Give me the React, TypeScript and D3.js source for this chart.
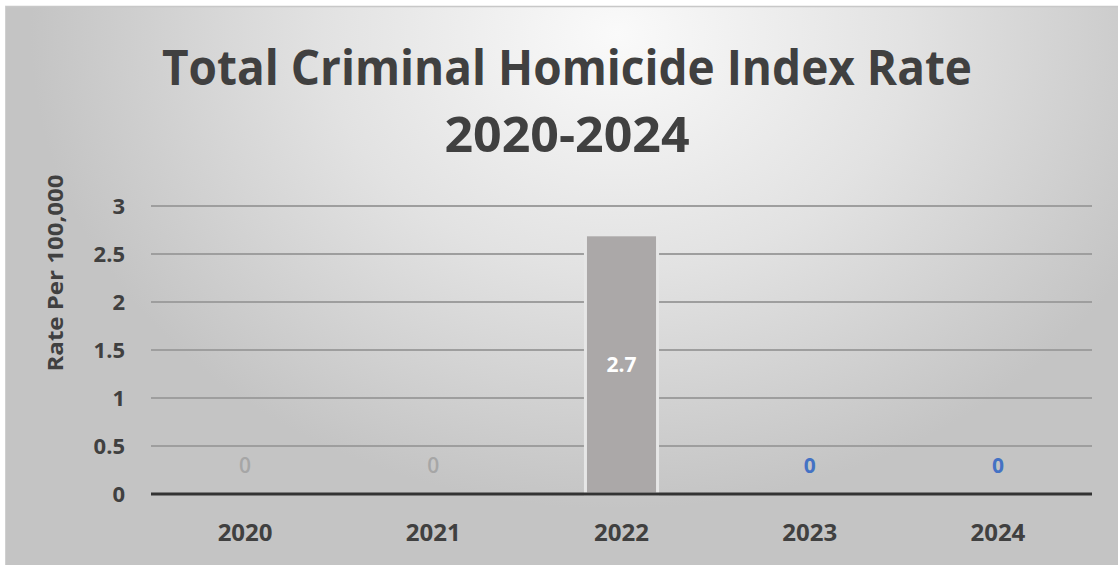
import React from "react";
import * as d3 from "d3";

const years = ["2020", "2021", "2022", "2023", "2024"];
const rates = [0, 0, 2.7, 0, 0];
const labelColors = ["#a6a6a6", "#a6a6a6", "#ffffff", "#4472c4", "#4472c4"];
const yTicks = [0, 0.5, 1, 1.5, 2, 2.5, 3];
const titleLine1 = "Total Criminal Homicide Index Rate";
const titleLine2 = "2020-2024";
const yAxisTitle = "Rate Per 100,000";

const W = 1118;
const H = 565;
const plotLeft = 151;
const plotRight = 1092;
const plotTop = 206;
const plotBottom = 494;

export default function App() {
  const x = d3.scaleBand<string>().domain(years).range([plotLeft, plotRight]).paddingInner(0.617).paddingOuter(0.3085);
  const y = d3.scaleLinear().domain([0, 3]).range([plotBottom, plotTop]);
  const font = "'Open Sans', 'DejaVu Sans', sans-serif";
  return (
    <svg width={W} height={H} style={{ position: "absolute", left: 0, top: 0 }}>
      <defs>
        <radialGradient id="bg" cx="0.55" cy="0.05" r="0.85" gradientUnits="objectBoundingBox" gradientTransform="translate(0.55,0.05) scale(0.62,1) translate(-0.55,-0.05)">
          <stop offset="0" stopColor="#fafafa" />
          <stop offset="0.5" stopColor="#e2e2e2" />
          <stop offset="1" stopColor="#c4c4c4" />
        </radialGradient>
      </defs>
      <rect x={0} y={0} width={W} height={H} fill="#ffffff" />
      <rect x={5} y={6} width={W - 5} height={H - 6} fill="url(#bg)" />
      <line x1={5} x2={W} y1={6.5} y2={6.5} stroke="#c8c8c8" strokeWidth={1.5} />
      <line x1={5.5} x2={5.5} y1={6} y2={H} stroke="#d0d0d0" strokeWidth={1} />
      {/* title */}
      <text x={567} y={85} textAnchor="middle" fontFamily={font} fontWeight={700} fontSize={48} fill="#404040" textLength={810} lengthAdjust="spacingAndGlyphs">{titleLine1}</text>
      <text x={567} y={152} textAnchor="middle" fontFamily={font} fontWeight={700} fontSize={48} fill="#404040" textLength={245} lengthAdjust="spacingAndGlyphs">{titleLine2}</text>
      {/* gridlines */}
      {yTicks.filter((t) => t > 0).map((t) => (
        <line key={t} x1={plotLeft} x2={plotRight} y1={y(t)} y2={y(t)} stroke="#9e9e9e" strokeWidth={2} />
      ))}
      {/* y tick labels */}
      {yTicks.map((t) => (
        <text key={t} x={125} y={y(t)} dy="0.36em" textAnchor="end" fontFamily={font} fontWeight={700} fontSize={22} fill="#404040">{String(t)}</text>
      ))}
      {/* y axis title */}
      <text transform={`translate(63,${273}) rotate(-90)`} textAnchor="middle" fontFamily={font} fontWeight={700} fontSize={21} fill="#404040" textLength={197} lengthAdjust="spacingAndGlyphs">{yAxisTitle}</text>
      {/* bars */}
      {years.map((yr, i) => rates[i] > 0 ? (
        <rect key={yr} x={x(yr)!} y={y(rates[i])} width={x.bandwidth()} height={plotBottom - y(rates[i])} fill="#aba8a8" stroke="#e6e6e6" strokeWidth={3} />
      ) : null)}
      {/* zero axis */}
      <line x1={plotLeft} x2={plotRight} y1={plotBottom} y2={plotBottom} stroke="#333333" strokeWidth={3} />
      {/* data labels */}
      {years.map((yr, i) => {
        const cx = x(yr)! + x.bandwidth() / 2;
        const cy = rates[i] > 0 ? (y(rates[i]) + plotBottom) / 2 : 465;
        return (
          <text key={yr} x={cx} y={cy} dy="0.36em" textAnchor="middle" fontFamily={font} fontWeight={rates[i] > 0 || i >= 3 ? 700 : 600} fontSize={21} fill={labelColors[i]}>{d3.format("")(rates[i])}</text>
        );
      })}
      {/* x labels */}
      {years.map((yr) => (
        <text key={yr} x={x(yr)! + x.bandwidth() / 2} y={532} dy="0.36em" textAnchor="middle" fontFamily={font} fontWeight={700} fontSize={24} fill="#404040">{yr}</text>
      ))}
    </svg>
  );
}
